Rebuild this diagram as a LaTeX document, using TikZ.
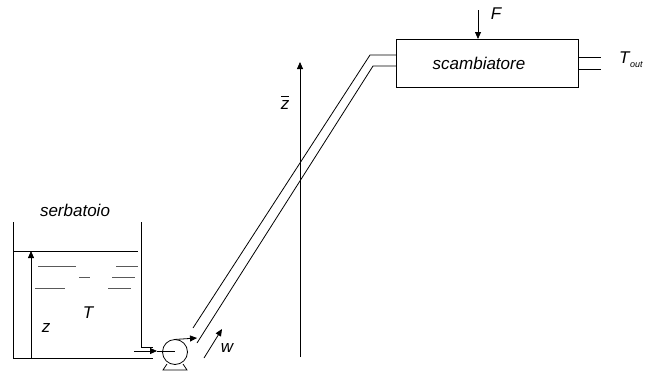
\documentclass[tikz,border=0pt]{standalone}
\usepackage{fontspec}
\setmainfont{Liberation Sans}
\usetikzlibrary{arrows.meta}
\tikzset{
  ln/.style={draw=black,line width=0.8pt},
  arr/.style={ln,-{Triangle[length=7pt,width=6pt]}},
  wave/.style={draw=black!65,line width=0.9pt},
  lab/.style={inner sep=0pt,font=\fontsize{17}{19}\selectfont\itshape}
}
\begin{document}
\begin{tikzpicture}[x=1pt,y=-1pt]
\useasboundingbox (0,0) rectangle (645,370);
% named points
\coordinate (tl) at (13,222);
\coordinate (bl) at (13,358);
\coordinate (br) at (153,358);
\coordinate (tr) at (141,222);
\coordinate (trb) at (141,347);
\coordinate (tre) at (153,347);
\coordinate (lvlL) at (13,251);
\coordinate (lvlR) at (138,251);
\coordinate (zb) at (31,358);
\coordinate (zt) at (31,251);
% exchanger and pump
\node[draw=black,line width=0.8pt,minimum width=182pt,minimum height=48pt,inner sep=0pt,anchor=north west] (sc) at (396,39) {};
\node[lab] (sct) at (479,63) {scambiatore};
\node[draw=black,line width=0.8pt,circle,minimum size=25pt,inner sep=0pt] (pump) at (175,352) {};
% tank
\draw[ln] (tl) -- (bl) -- (br);
\draw[ln] (tr) -- (trb) -- (tre);
\draw[ln] (lvlL) -- (lvlR);
\draw[arr] (zb) -- (zt);
% water surface
\coordinate (w1a) at (38,266); \coordinate (w1b) at (76,266);
\coordinate (w2a) at (116,266); \coordinate (w2b) at (138,266);
\coordinate (w3a) at (79,277); \coordinate (w3b) at (90,277);
\coordinate (w4a) at (112,277); \coordinate (w4b) at (135,277);
\coordinate (w5a) at (35,288); \coordinate (w5b) at (65,288);
\coordinate (w6a) at (108,288); \coordinate (w6b) at (131,288);
\draw[wave] (w1a) -- (w1b);
\draw[wave] (w2a) -- (w2b);
\draw[wave] (w3a) -- (w3b);
\draw[wave] (w4a) -- (w4b);
\draw[wave] (w5a) -- (w5b);
\draw[wave] (w6a) -- (w6b);
% pump details
\coordinate (inS) at (134,351);
\coordinate (inM) at (157,351);
\coordinate (inE) at (175,351);
\draw[arr] (inS) -- (inM);
\draw[ln] (inM) -- (inE);
\coordinate (ouS) at (174,339.5);
\coordinate (ouE) at (197,338);
\draw[arr] (ouS) -- (ouE);
\coordinate (b1) at (167,364); \coordinate (b2) at (163,370);
\coordinate (b3) at (187,370); \coordinate (b4) at (183,364);
\draw[ln] (b1) -- (b2) -- (b3) -- (b4);
% pipes
\coordinate (p1a) at (193,328); \coordinate (p1b) at (370,55);
\coordinate (p2a) at (197,343); \coordinate (p2b) at (373,66);
\draw[ln] (p1a) -- (p1b) -- (p1b -| sc.west);
\draw[ln] (p2a) -- (p2b) -- (p2b -| sc.west);
% outlets
\coordinate (o1) at (601,57); \coordinate (o2) at (601,69);
\draw[ln] (o1 -| sc.east) -- (o1);
\draw[ln] (o2 -| sc.east) -- (o2);
% F
\coordinate (fs) at (478,10);
\draw[arr] (fs) -- (fs |- sc.north);
% zbar axis
\coordinate (axb) at (300,357); \coordinate (axt) at (300,62);
\draw[arr] (axb) -- (axt);
% w
\coordinate (wa) at (204,358); \coordinate (wb) at (222,329);
\draw[arr] (wa) -- (wb);
% labels
\node[lab] (lF) at (496,14) {F};
\node[lab] (lT) at (88,313) {T};
\node[lab] (lz) at (46,328) {z};
\node[lab] (lw) at (227,348) {w};
\node[lab] (lzb) at (285,105) {z};
\coordinate (zbarL) at (281,96); \coordinate (zbarR) at (289,96);
\draw[ln] (zbarL) -- (zbarR);
\node[lab] (ls) at (75,210) {serbatoio};
\node[lab,anchor=west] (lTo) at (619,60) {T\kern0.5pt\raisebox{-4pt}{\fontsize{9}{10}\selectfont out}};
\end{tikzpicture}
\end{document}
